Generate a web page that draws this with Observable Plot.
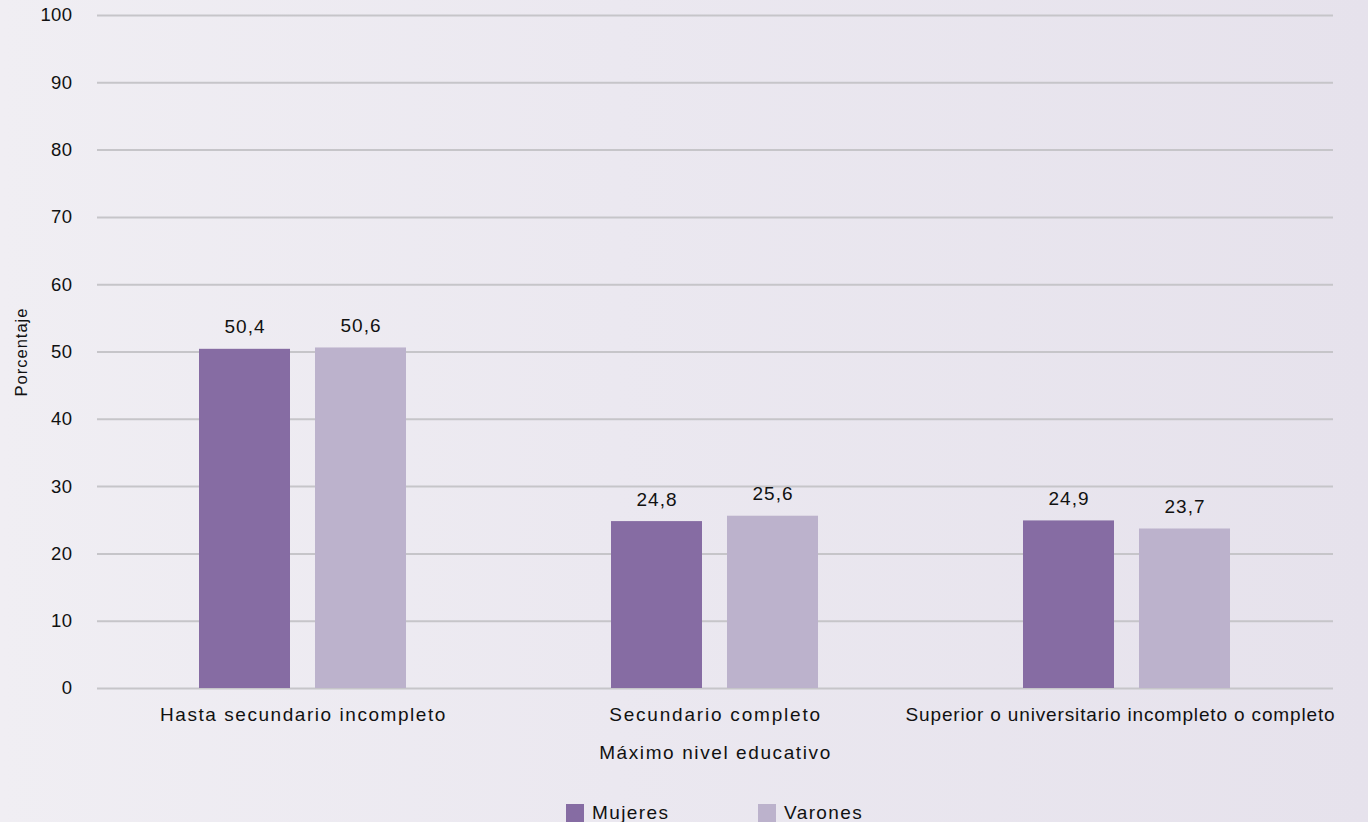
<!DOCTYPE html>
<html>
<head>
<meta charset="utf-8">
<script src="https://cdn.jsdelivr.net/npm/d3@7"></script>
<script src="https://cdn.jsdelivr.net/npm/@observablehq/plot@0.6"></script>
<style>
  html, body { margin: 0; padding: 0; }
  body {
    width: 1368px; height: 822px; overflow: hidden; position: relative;
    background: linear-gradient(90deg, #f0eef3 0%, #ebe8f0 45%, #e6e2ec 100%);
    font-family: "Liberation Sans", Arial, Helvetica, sans-serif;
  }
  #chart { position: absolute; left: 0; top: 0; }
  #legend { position: absolute; left: 566px; top: 802px; display: flex; align-items: center; font-size: 19px; letter-spacing: 1.4px; color: #111; }
  .item { display: flex; align-items: center; }
  .sw { width: 18px; height: 18px; margin-right: 8px; }
  g[aria-label="fx-axis label"] text { letter-spacing: 1.6px; }
  g[aria-label="y-axis label"] text { letter-spacing: 1px; }
  g[aria-label="y-axis tick label"] text { letter-spacing: 0.4px; }
  g[aria-label="text"] text { letter-spacing: 1px; }
</style>
</head>
<body>
<div id="chart"></div>
<div id="legend"></div>
<script>
const categories = ["Hasta secundario incompleto", "Secundario completo", "Superior o universitario incompleto o completo"];
const series = ["Mujeres", "Varones"];
const mujeres = [50.4, 24.8, 24.9];
const varones = [50.6, 25.6, 23.7];
const yTicks = [0, 10, 20, 30, 40, 50, 60, 70, 80, 90, 100];
const colors = ["#866ca3", "#bcb2cc"];

const data = [];
categories.forEach((c, i) => {
  data.push({cat: c, sex: series[0], value: mujeres[i]});
  data.push({cat: c, sex: series[1], value: varones[i]});
});
const fmt = v => v.toFixed(1).replace(".", ",");

const chart = Plot.plot({
  width: 1368,
  height: 775,
  marginLeft: 96,
  marginRight: 35,
  marginTop: 15,
  marginBottom: 87,
  style: {background: "transparent", fontFamily: "'Liberation Sans', Arial, Helvetica, sans-serif", fontSize: "18.5px", color: "#111", overflow: "visible"},
  fx: {domain: categories, padding: 0},
  x: {domain: series, paddingInner: 0.214, paddingOuter: 0.868, axis: null},
  y: {domain: [0, 100]},
  color: {domain: series, range: colors},
  marks: [
    Plot.gridY(yTicks, {stroke: "#c6c5c9", strokeOpacity: 1, strokeWidth: 2}),
    Plot.axisY(yTicks, {tickSize: 0, tickPadding: 25, fontSize: 18.5, label: null}),
    Plot.axisY({ticks: [], tickSize: 0, label: "Porcentaje", labelArrow: "none", labelAnchor: "center", labelOffset: 82, fontSize: 16.5}),
    Plot.axisFx({anchor: "bottom", tickSize: 0, tickPadding: 19, fontSize: 19, label: "Máximo nivel educativo", labelArrow: "none", labelAnchor: "center", labelOffset: 70}),
    Plot.barY(data, {fx: "cat", x: "sex", y: "value", fill: "sex"}),
    Plot.text(data, {fx: "cat", x: "sex", y: "value", text: d => fmt(d.value), dy: -22, fill: "#111", fontSize: 19})
  ]
});
document.getElementById("chart").appendChild(chart);

// fine typographic tuning of category labels (spacing to mimic the original font)
const tickSpacing = [1.55, 1.8, 0.85];
const tickShift = [0, 0, -7];
d3.select(chart).selectAll('g[aria-label="fx-axis tick label"] text').each(function(d, i) {
  d3.select(this).style("letter-spacing", tickSpacing[i] + "px").attr("dx", tickShift[i]);
});

const legend = document.getElementById("legend");
series.forEach((s, i) => {
  const item = document.createElement("div");
  item.className = "item";
  if (i === 0) item.style.width = "192px";
  const sw = document.createElement("div");
  sw.className = "sw";
  sw.style.background = colors[i];
  const t = document.createElement("span");
  t.textContent = s;
  item.appendChild(sw);
  item.appendChild(t);
  legend.appendChild(item);
});
</script>
</body>
</html>
